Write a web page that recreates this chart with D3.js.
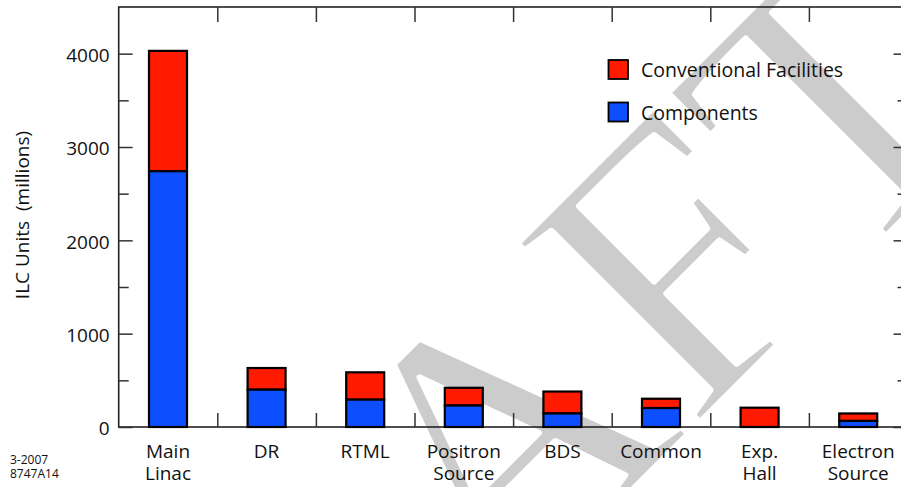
<!DOCTYPE html>
<html><head><meta charset="utf-8">
<script src="https://cdn.jsdelivr.net/npm/d3@7"></script>
<style>body{margin:0;background:#fff}svg{display:block;font-family:"Open Sans",sans-serif}</style>
</head><body><svg id="c" width="901" height="487"></svg>
<script>
const categories = ["Main Linac","DR","RTML","Positron Source","BDS","Common","Exp. Hall","Electron Source"];
const categoryLines = [["Main","Linac"],["DR"],["RTML"],["Positron","Source"],["BDS"],["Common"],["Exp.","Hall"],["Electron","Source"]];
const components   = [2740, 400, 293, 230, 145, 203, 0, 65];
const conventional = [1290, 232, 293, 190, 235, 100, 207, 80];
const seriesNames = ["Conventional Facilities","Components"];
const seriesColors = ["#ff1a00","#0d4eff"];
const yMajorTicks = [0,1000,2000,3000,4000];
const yMinorTicks = [500,1500,2500,3500];
const yTitle = "ILC Units  (millions)";
const stampLines = ["3-2007","8747A14"];
const watermark = "DRAFT";

const svg = d3.select("#c");
const L = 118.7, R = 907.5, T = 7, B = 427;
const x = d3.scaleBand().domain(categories).range([L,R]).padding(0);
const xb = d3.scaleLinear().domain([0,categories.length]).range([L,R]);
const y = d3.scaleLinear().domain([0,4500]).range([B,T]);

// watermark (behind everything), thinned with a white outline
svg.append("text")
  .attr("transform","translate(560,562) rotate(-45)")
  .attr("text-anchor","middle")
  .attr("font-family","'Liberation Serif',serif")
  .attr("font-size",390)
  .attr("fill","#cccccc")
  .attr("stroke","#ffffff").attr("stroke-width",6).attr("stroke-linejoin","round")
  .text(watermark);

// frame
svg.append("rect").attr("x",L).attr("y",T).attr("width",R-L).attr("height",B-T)
  .attr("fill","none").attr("stroke","#222").attr("stroke-width",1.6);

// y axes
const gl = svg.append("g").attr("transform",`translate(${L},0)`)
  .call(d3.axisLeft(y).tickValues(yMajorTicks).tickSize(-14).tickPadding(9).tickFormat(d3.format("d")));
svg.append("g").attr("transform",`translate(${L},0)`)
  .call(d3.axisLeft(y).tickValues(yMinorTicks).tickSize(-10).tickFormat(""));
svg.append("g").attr("transform",`translate(${R},0)`)
  .call(d3.axisRight(y).tickValues(yMajorTicks).tickSize(-14).tickFormat(""));
svg.append("g").attr("transform",`translate(${R},0)`)
  .call(d3.axisRight(y).tickValues(yMinorTicks).tickSize(-10).tickFormat(""));
// x boundary ticks
const bounds = d3.range(1,categories.length);
svg.append("g").attr("transform",`translate(0,${T})`)
  .call(d3.axisTop(xb).tickValues(bounds).tickSize(-15).tickFormat(""));
svg.append("g").attr("transform",`translate(0,${B})`)
  .call(d3.axisBottom(xb).tickValues(bounds).tickSize(-14).tickFormat(""));
svg.selectAll(".domain").remove();
svg.selectAll(".tick line").attr("stroke","#333").attr("stroke-width",1.5);
gl.selectAll(".tick text").attr("font-size",19).attr("fill","#111").attr("dy","0.42em")
  .attr("font-family","'Open Sans',sans-serif");

// bars
const bw = 38;
const gBars = svg.append("g");
categories.forEach((c,i)=>{
  const cx = x(c) + x.bandwidth()/2;
  const comp = components[i], conv = conventional[i];
  if (conv > 0) gBars.append("rect").attr("x",cx-bw/2).attr("width",bw)
    .attr("y",y(comp+conv)).attr("height",y(comp)-y(comp+conv))
    .attr("fill",seriesColors[0]).attr("stroke","#000").attr("stroke-width",2.2);
  if (comp > 0) gBars.append("rect").attr("x",cx-bw/2).attr("width",bw)
    .attr("y",y(comp)).attr("height",y(0)-y(comp))
    .attr("fill",seriesColors[1]).attr("stroke","#000").attr("stroke-width",2.2);
});

// category labels
categories.forEach((c,i)=>{
  const cx = x(c) + x.bandwidth()/2;
  categoryLines[i].forEach((ln,j)=>{
    svg.append("text").attr("text-anchor","middle").attr("font-size",19).attr("fill","#111")
      .attr("x",cx).attr("y",457.5 + j*22.5).text(ln);
  });
});

// y title
svg.append("text").attr("transform","translate(29,215) rotate(-90)")
  .attr("text-anchor","middle").attr("font-size",19).attr("fill","#111")
  .attr("xml:space","preserve").style("white-space","pre").text(yTitle);

// stamp
stampLines.forEach((s,i)=>{
  svg.append("text").attr("x",10).attr("y",464 + i*13.5).attr("font-size",12).attr("fill","#111").text(s);
});

// legend
const lg = svg.append("g");
seriesNames.forEach((n,i)=>{
  const yy = 60 + i*42.5;
  lg.append("rect").attr("x",608.5).attr("y",yy).attr("width",19.5).attr("height",19)
    .attr("fill",seriesColors[i]).attr("stroke","#000").attr("stroke-width",1.8);
  lg.append("text").attr("x",641).attr("y",yy+17).attr("font-size",19.5).attr("fill","#111").text(n);
});
</script></body></html>
